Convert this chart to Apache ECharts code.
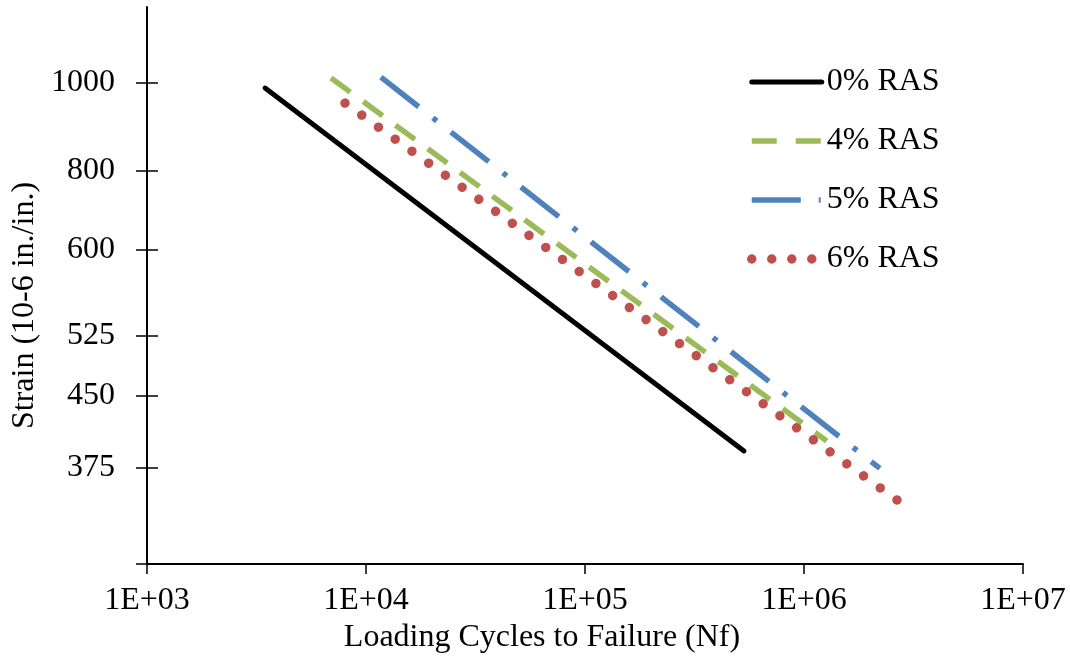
<!DOCTYPE html>
<html><head><meta charset="utf-8">
<script src="https://cdn.jsdelivr.net/npm/echarts@6/dist/echarts.min.js"></script>
<style>html,body{margin:0;padding:0;background:#fff}#c{width:1070px;height:657px}</style>
</head><body><div id="c"></div>
<script>
const seriesNames = ['0% RAS', '4% RAS', '5% RAS', '6% RAS'];
const cycles0 = [3460, 532000];
const strain0 = [987, 391];
const cycles4 = [6920, 1270000];
const strain4 = [1013, 401];
const cycles5 = [11700, 2220000];
const strain5 = [1015, 374];
const cycles6 = [8020, 2660000];
const strain6 = [950, 345];
const xTickValues = [1e3, 1e4, 1e5, 1e6, 1e7];
const xTickLabels = ['1E+03', '1E+04', '1E+05', '1E+06', '1E+07'];
const yTickValues = [375, 450, 525, 653, 800, 1000];
const yTickLabels = ['375', '450', '525', '600', '800', '1000'];

const FONT = 'Liberation Serif';
const FS = 32;
const Y_MIN = 293, Y_MAX = 1214;

function pairs(xs, ys) { return xs.map((x, i) => [x, ys[i]]); }
function nearestLabel(v, vals, labels) {
  let best = 0, bd = Infinity;
  vals.forEach((t, i) => { const d = Math.abs(Math.log(v) - Math.log(t)); if (d < bd) { bd = d; best = i; } });
  return bd < 0.01 ? labels[best] : '';
}

const styles = [
  { color: '#000000', width: 5, type: 'solid', cap: 'round' },
  { color: '#9BBB59', width: 5.5, type: [24, 16], cap: 'butt' },
  { color: '#4F81BD', width: 5.5, type: [48, 18, 5, 18], cap: 'butt' },
  { color: '#C0504D', width: 9.5, type: [0.01, 20.59], cap: 'round' }
];
const legendStyles = [
  { color: '#000000', width: 5, type: 'solid', cap: 'round' },
  { color: '#9BBB59', width: 5.5, type: [25, 19], cap: 'butt' },
  { color: '#4F81BD', width: 5.5, type: [49, 18, 2, 18], cap: 'butt' },
  { color: '#C0504D', width: 9.5, type: [0.01, 20], cap: 'round' }
];
const seriesData = [pairs(cycles0, strain0), pairs(cycles4, strain4), pairs(cycles5, strain5), pairs(cycles6, strain6)];

const chart = echarts.init(document.getElementById('c'), null, { renderer: 'canvas' });
const yBase = {
  type: 'log', logBase: 10, min: Y_MIN, max: Y_MAX, position: 'left',
  splitLine: { show: false }, minorTick: { show: false }
};
chart.setOption({
  animation: false,
  backgroundColor: '#ffffff',
  grid: { left: 147, right: 47, top: 7, bottom: 93, containLabel: false, outerBoundsMode: 'none' },
  legend: {
    orient: 'vertical', left: 747, top: 66, padding: 0,
    itemWidth: 70, itemHeight: 14, itemGap: 27,
    itemStyle: { opacity: 0 },
    textStyle: { fontFamily: FONT, fontSize: FS, color: '#000' },
    data: seriesNames.map((n, i) => ({ name: n, lineStyle: legendStyles[i], itemStyle: { opacity: 0 } }))
  },
  xAxis: {
    type: 'log', logBase: 10, min: 1e3, max: 1e7,
    name: 'Loading Cycles to Failure (Nf)', nameLocation: 'middle', nameGap: 57,
    nameTextStyle: { fontFamily: FONT, fontSize: FS, color: '#000', padding: [0, 86, 0, 0] },
    axisLine: { lineStyle: { color: '#000', width: 2 } },
    axisTick: { show: true, inside: false, length: 10, lineStyle: { color: '#000', width: 1.5 }, customValues: xTickValues },
    axisLabel: { customValues: xTickValues, fontFamily: FONT, fontSize: FS, color: '#000', margin: 21,
      formatter: v => nearestLabel(v, xTickValues, xTickLabels) },
    splitLine: { show: false }, minorTick: { show: false }
  },
  yAxis: [
    Object.assign({}, yBase, {
      name: 'Strain (10-6 in./in.)', nameLocation: 'middle', nameGap: 104,
      nameTextStyle: { fontFamily: FONT, fontSize: FS, color: '#000', padding: [0, 40, 0, 0] },
      axisLine: { show: true, lineStyle: { color: '#000', width: 2 } },
      axisTick: { show: true, inside: false, length: 11, lineStyle: { color: '#000', width: 1.5 }, customValues: yTickValues.concat([Y_MIN]) },
      axisLabel: { customValues: yTickValues, fontFamily: FONT, fontSize: FS, color: '#000', margin: 32,
        formatter: v => nearestLabel(v, yTickValues, yTickLabels) }
    }),
    Object.assign({}, yBase, {
      offset: 0,
      axisLine: { show: false },
      axisTick: { show: true, inside: true, length: 11, lineStyle: { color: '#000', width: 1.5 }, customValues: yTickValues },
      axisLabel: { show: false }
    })
  ],
  series: seriesNames.map((n, i) => ({
    name: n, type: 'line', data: seriesData[i], symbol: 'none', yAxisIndex: 0,
    itemStyle: { color: styles[i].color },
    lineStyle: styles[i]
  }))
});
</script></body></html>
